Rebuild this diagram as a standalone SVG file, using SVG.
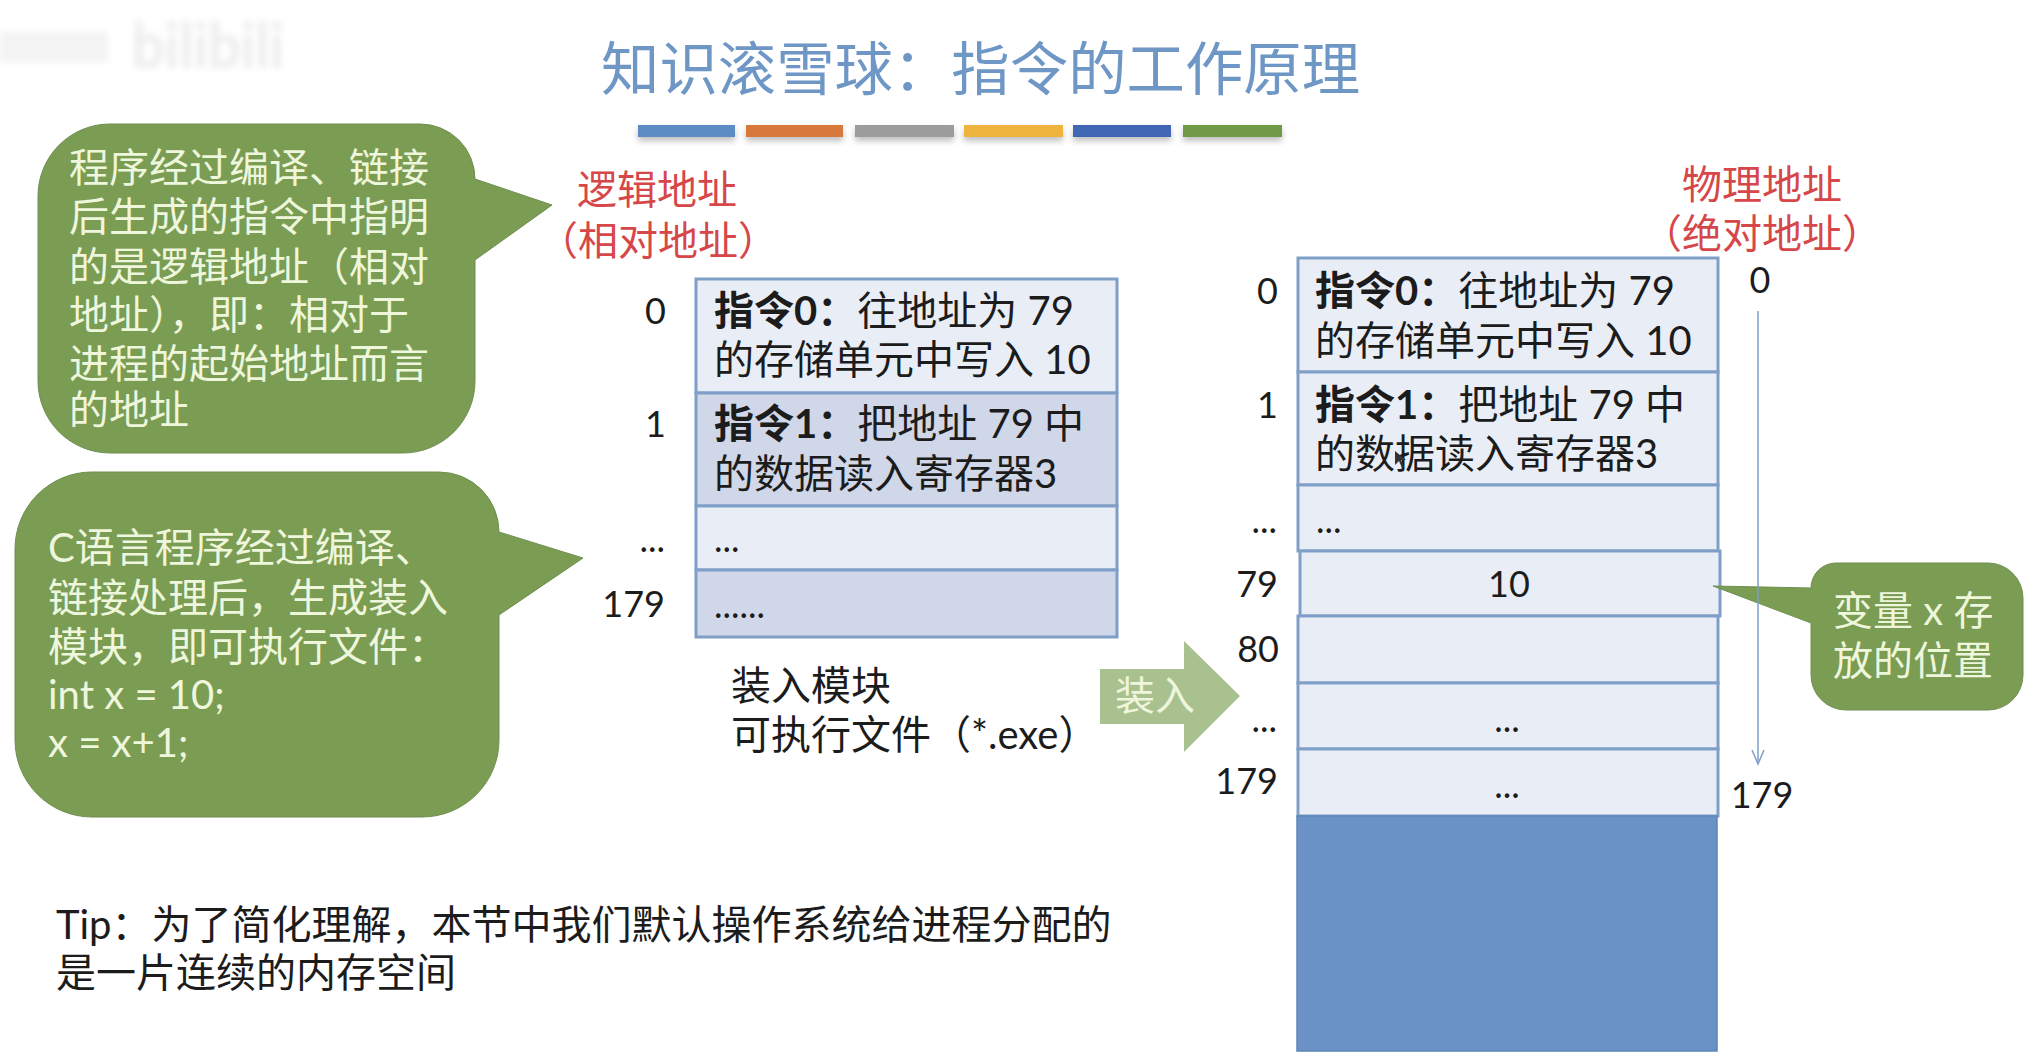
<svg xmlns="http://www.w3.org/2000/svg" width="2040" height="1059" viewBox="0 0 2040 1059">
<style>
text{font-family:"Lato","Noto Sans CJK SC",sans-serif;fill:#1c1c1c}
.t{font-size:40px}
.s{font-size:36px}
.n{font-size:36px;text-anchor:end}
.c{text-anchor:middle}
.b{font-size:40px;fill:#eef6dc}
.r{font-size:40px;fill:#d6474a;text-anchor:middle}
.l{font-size:40px}
.bub{fill:#7a9c53;stroke:#6f8f50;stroke-width:1}
.a{fill:#e9eef6;stroke:#7f9fc8;stroke-width:3}
.d{fill:#cfd7e9;stroke:#7f9fc8;stroke-width:3}
.bar{filter:url(#sh)}
</style>
<defs>
<filter id="sh" x="-10%" y="-50%" width="120%" height="220%"><feDropShadow dx="0" dy="4" stdDeviation="3" flood-color="#000" flood-opacity="0.25"/></filter>
<filter id="blur" x="-20%" y="-20%" width="140%" height="140%"><feGaussianBlur stdDeviation="3.5"/></filter>
<marker id="arr" markerWidth="18" markerHeight="14" refX="15" refY="7" orient="auto" markerUnits="userSpaceOnUse"><path d="M1 1L15 7L1 13" fill="none" stroke="#7f9fc8" stroke-width="1.5"/></marker>
</defs>
<rect width="2040" height="1059" fill="#fff"/>
<g id="watermark" filter="url(#blur)">
<text x="132" y="68" textLength="152" lengthAdjust="spacingAndGlyphs" style="font-size:64px;font-weight:700;fill:#ececec">bilibili</text>
<rect x="0" y="32" width="108" height="30" fill="#f3f3f3"/>
</g>
<g id="title">
<text x="601" y="90" style="font-size:58.4px;fill:#6f97c5">知识滚雪球&#xFF1A;指令的工作原理</text>
<rect class="bar" x="638" y="125" width="97" height="12" fill="#5b8cc4"/>
<rect class="bar" x="746" y="125" width="97" height="12" fill="#d6793a"/>
<rect class="bar" x="855" y="125" width="99" height="12" fill="#9c9c9c"/>
<rect class="bar" x="964" y="125" width="99" height="12" fill="#efb43e"/>
<rect class="bar" x="1073" y="125" width="98" height="12" fill="#3f66b4"/>
<rect class="bar" x="1183" y="125" width="99" height="12" fill="#6f9a45"/>
</g>
<g id="bubble-1">
<path class="bub" d="M110 124H420A55 55 0 0 1 475 179L552 205L475 260V381A72 72 0 0 1 403 453H110A72 72 0 0 1 38 381V196A72 72 0 0 1 110 124Z"/>
<text class="b" x="69" y="182">程序经过编译、链接</text>
<text class="b" x="69" y="231">后生成的指令中指明</text>
<text class="b" x="69" y="281">的是逻辑地址&#xFF08;相对</text>
<text class="b" x="69" y="329">地址&#xFF09;&#xFF0C;即&#xFF1A;相对于</text>
<text class="b" x="69" y="378">进程的起始地址而言</text>
<text class="b" x="69" y="424">的地址</text>
</g>
<g id="bubble-2">
<path class="bub" d="M92 472H439A60 60 0 0 1 499 532L583 558L499 615V740A77 77 0 0 1 422 817H92A77 77 0 0 1 15 740V549A77 77 0 0 1 92 472Z"/>
<text class="b" x="48" y="562">C语言程序经过编译、</text>
<text class="b" x="48" y="612">链接处理后&#xFF0C;生成装入</text>
<text class="b" x="48" y="661">模块&#xFF0C;即可执行文件&#xFF1A;</text>
<text class="b" x="48" y="709">int x = 10;</text>
<text class="b" x="48" y="757">x = x+1;</text>
</g>
<g id="label-logical">
<text class="r" x="657" y="204">逻辑地址</text>
<text class="r" x="658" y="255">&#xFF08;相对地址&#xFF09;</text>
</g>
<g id="label-physical">
<text class="r" x="1762" y="199">物理地址</text>
<text class="r" x="1762" y="248">&#xFF08;绝对地址&#xFF09;</text>
</g>
<g id="load-module">
<rect class="a" x="696" y="279" width="421" height="114"/>
<rect class="d" x="696" y="393" width="421" height="113"/>
<rect class="a" x="696" y="506" width="421" height="64"/>
<rect class="d" x="696" y="570" width="421" height="67"/>
<text class="t" x="714" y="325"><tspan font-weight="700">指令0&#xFF1A;</tspan>往地址为 79</text>
<text class="t" x="714" y="374">的存储单元中写入 10</text>
<text class="t" x="714" y="438"><tspan font-weight="700">指令1&#xFF1A;</tspan>把地址 79 中</text>
<text class="t" x="714" y="488">的数据读入寄存器3</text>
<text class="s" x="714" y="552">...</text>
<text class="s" x="714" y="618">......</text>
<text class="n" x="666" y="324">0</text>
<text class="n" x="666" y="437">1</text>
<text class="n" x="665" y="552">...</text>
<text class="n" x="665" y="617">179</text>
</g>
<g id="memory">
<rect class="a" x="1298" y="258" width="420" height="114"/>
<rect class="a" x="1298" y="372" width="420" height="113"/>
<rect class="a" x="1298" y="485" width="420" height="66"/>
<rect class="a" x="1300" y="551" width="420" height="65"/>
<rect class="a" x="1298" y="616" width="420" height="67"/>
<rect class="a" x="1298" y="683" width="420" height="66"/>
<rect class="a" x="1298" y="749" width="420" height="67"/>
<rect x="1297" y="816" width="420" height="235" fill="#6a92c6" stroke="#5d85ba" stroke-width="1.5"/>
<text class="t" x="1315" y="305"><tspan font-weight="700">指令0&#xFF1A;</tspan>往地址为 79</text>
<text class="t" x="1315" y="355">的存储单元中写入 10</text>
<text class="t" x="1315" y="419"><tspan font-weight="700">指令1&#xFF1A;</tspan>把地址 79 中</text>
<text class="t" x="1315" y="468">的数据读入寄存器3</text>
<text class="s" x="1316" y="533">...</text>
<text class="s c" x="1509" y="597">10</text>
<text class="s c" x="1507" y="732">...</text>
<text class="s c" x="1507" y="798">...</text>
<text class="n" x="1278" y="304">0</text>
<text class="n" x="1278" y="418">1</text>
<text class="n" x="1277" y="533">...</text>
<text class="n" x="1278" y="597">79</text>
<text class="n" x="1279" y="662">80</text>
<text class="n" x="1277" y="732">...</text>
<text class="n" x="1278" y="794">179</text>
<text class="s c" x="1760" y="293">0</text>
<text class="s c" x="1762" y="808">179</text>
<path d="M1395 451L1395 465L1399 461L1402 468L1404 467L1401 460L1406 460Z" fill="#333"/>
</g>
<g id="callout">
<path class="bub" d="M1836 563H1988A35 35 0 0 1 2023 598V675A35 35 0 0 1 1988 710H1846A35 35 0 0 1 1811 675V623L1713 586L1811 588A25 25 0 0 1 1836 563Z"/>
<text class="b" x="1833" y="625">变量 x 存</text>
<text class="b" x="1833" y="675">放的位置</text>
</g>
<g id="load-arrow">
<path d="M1100 669H1184V641L1240 696L1184 752V724H1100Z" fill="#a9c08f"/>
<text class="b" x="1115" y="710">装入</text>
</g>
<g id="load-caption">
<text class="l" x="731" y="700">装入模块</text>
<text class="l" x="731" y="749">可执行文件&#xFF08;*.exe&#xFF09;</text>
</g>
<g id="tip">
<text x="56" y="939" style="font-size:40px">Tip&#xFF1A;为了简化理解&#xFF0C;本节中我们默认操作系统给进程分配的</text>
<text x="56" y="987" style="font-size:40px">是一片连续的内存空间</text>
</g>
<g id="connectors">
<line x1="1758" y1="311" x2="1758" y2="764" stroke="#7f9fc8" stroke-width="1.5" marker-end="url(#arr)"/>
</g>
</svg>
